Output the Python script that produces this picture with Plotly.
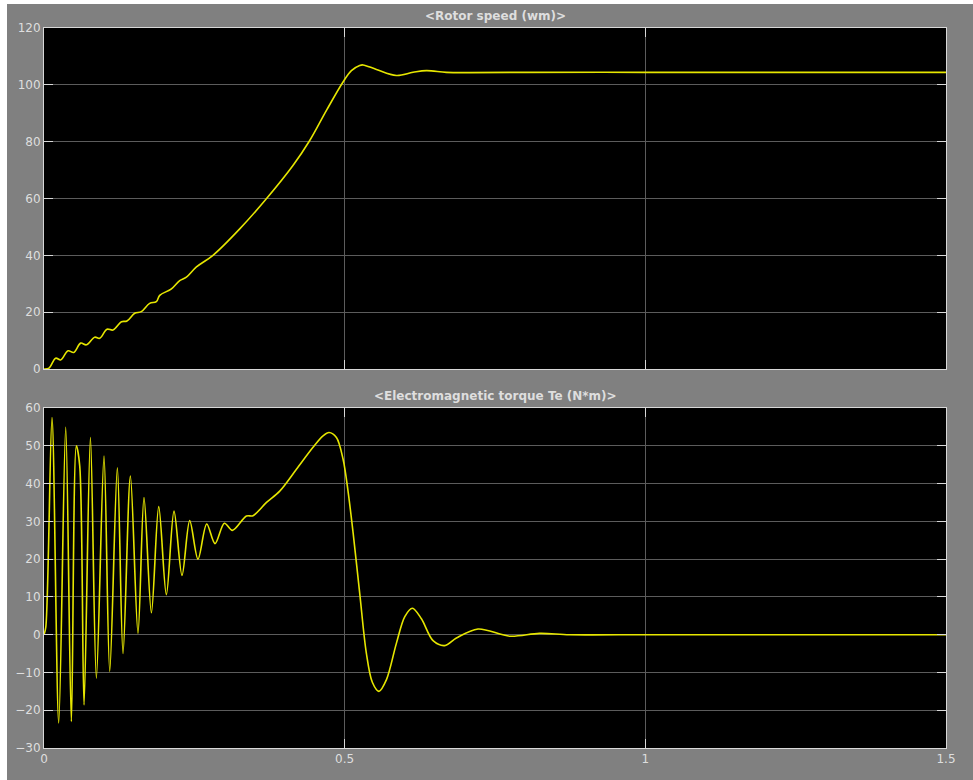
import plotly.graph_objects as go
from plotly.subplots import make_subplots

# Rotor speed (wm) vs time (s)
speed_t = [0.0, 0.0083, 0.0194, 0.0278, 0.040, 0.0494, 0.061, 0.0705, 0.0843, 0.0926,
           0.1048, 0.1148, 0.1287, 0.138, 0.1508, 0.1619, 0.1757, 0.1868, 0.1924, 0.2119,
           0.2257, 0.2368, 0.2535, 0.281, 0.3255, 0.3698, 0.414, 0.4419, 0.4697, 0.4973,
           0.5112, 0.525, 0.5305, 0.5528, 0.586, 0.6137, 0.636, 0.669,
           0.708, 0.80, 1.0, 1.2, 1.5]
speed_v = [0.0, 0.3, 3.8, 3.2, 6.4, 5.8, 9.1, 8.5, 11.2, 10.8,
           14.0, 13.7, 16.6, 16.9, 19.6, 20.2, 23.1, 23.7, 25.9, 28.2,
           31.1, 32.3, 35.9, 40.0, 49.3, 59.9, 71.6, 80.4, 91.0, 101.0,
           105.0, 106.8, 107.0, 105.4, 103.3, 104.4, 105.0, 104.4,
           104.3, 104.4, 104.4, 104.4, 104.4]

# Electromagnetic torque Te (N*m) vs time (s)
torque_t = [0.0, 0.003, 0.0133, 0.0245, 0.0361, 0.0455, 0.0538, 0.0594, 0.0666, 0.0772,
            0.0871, 0.0998, 0.1093, 0.122, 0.1314, 0.1437, 0.1563, 0.1663, 0.1786, 0.1908,
            0.2035, 0.2162, 0.2295, 0.2423, 0.2561, 0.2706, 0.2844, 0.300, 0.3133, 0.3366,
            0.3476, 0.370, 0.392, 0.4198, 0.4474, 0.464, 0.474, 0.4863, 0.4973, 0.5056,
            0.514, 0.525, 0.536, 0.546, 0.557, 0.5695, 0.586, 0.600, 0.6127, 0.6276, 0.647,
            0.6664, 0.6858, 0.7218, 0.7745, 0.824, 0.874, 1.0, 1.2, 1.5]
torque_v = [0.0, 2.0, 57.5, -23.4, 54.9, -23.0, 50.0, 44.7, -18.6, 52.2,
            -11.5, 47.3, -9.7, 44.2, -5.0, 42.0, 0.4, 36.3, 5.8, 33.9,
            10.6, 32.7, 15.7, 30.2, 20.0, 29.3, 24.1, 29.5, 27.6, 31.4,
            31.5, 35.0, 38.0, 43.8, 49.6, 52.6, 53.5, 52.2, 46.5, 38.0,
            27.0, 11.0, -4.8, -12.6, -15.0, -11.9, -2.3, 4.8, 7.0, 4.2, -1.6,
            -2.9, -0.9, 1.5, -0.4, 0.35, 0.0, 0.0, 0.0, 0.0]

x_ticks = [0, 0.5, 1, 1.5]
x_tick_text = ["0", "0.5", "1", "1.5"]
speed_ticks = [0, 20, 40, 60, 80, 100, 120]
torque_ticks = [-30, -20, -10, 0, 10, 20, 30, 40, 50, 60]
titles = ["&lt;Rotor speed (wm)&gt;", "&lt;Electromagnetic torque Te (N*m)&gt;"]

BG = "#808080"
LINE = "#e6e600"
GRID = "#5c5c5c"
AX = "#d8d8d8"
TXT = "#dedede"

fig = make_subplots(rows=2, cols=1, shared_xaxes=False)
fig.add_trace(go.Scatter(x=speed_t, y=speed_v, mode="lines",
                         line=dict(color=LINE, width=1.6, shape="spline", smoothing=1.0),
                         showlegend=False), row=1, col=1)
fig.add_trace(go.Scatter(x=torque_t, y=torque_v, mode="lines",
                         line=dict(color=LINE, width=1.6, shape="spline", smoothing=0.9),
                         showlegend=False), row=2, col=1)

axis_common = dict(showline=True, linecolor=AX, linewidth=1, mirror="ticks",
                   ticks="inside", ticklen=9, tickcolor=AX, tickwidth=1,
                   showgrid=True, gridcolor=GRID, gridwidth=1, zeroline=False,
                   automargin=False,
                   tickfont=dict(family="DejaVu Sans", size=12, color=TXT))

fig.update_xaxes(range=[0, 1.5], tickvals=x_ticks, ticktext=x_tick_text, **axis_common)
fig.update_xaxes(showticklabels=False, row=1, col=1)
fig.update_yaxes(**axis_common)
fig.update_yaxes(range=[0, 120], tickvals=speed_ticks, row=1, col=1)
fig.update_yaxes(range=[-30, 60], tickvals=torque_ticks, row=2, col=1)

fig.update_layout(
    width=966, height=776,
    margin=dict(l=37, r=27, t=24, b=32),
    paper_bgcolor=BG, plot_bgcolor="black",
    xaxis=dict(domain=[0, 1], anchor="y"),
    yaxis=dict(domain=[0.5264, 1.0]),
    xaxis2=dict(domain=[0, 1], anchor="y2"),
    yaxis2=dict(domain=[0.0, 0.4722]),
    annotations=[
        dict(text=titles[0], x=0.5, y=1.0, xref="paper", yref="paper",
             xanchor="center", yanchor="bottom", yshift=3, showarrow=False,
             font=dict(family="DejaVu Sans", size=12, color=TXT, weight="bold")),
        dict(text=titles[1], x=0.5, y=0.4722, xref="paper", yref="paper",
             xanchor="center", yanchor="bottom", yshift=3, showarrow=False,
             font=dict(family="DejaVu Sans", size=12, color=TXT, weight="bold")),
    ],
)

fig.write_html("out.html",
               post_script="document.body.style.margin='4px 0 0 7px';")
